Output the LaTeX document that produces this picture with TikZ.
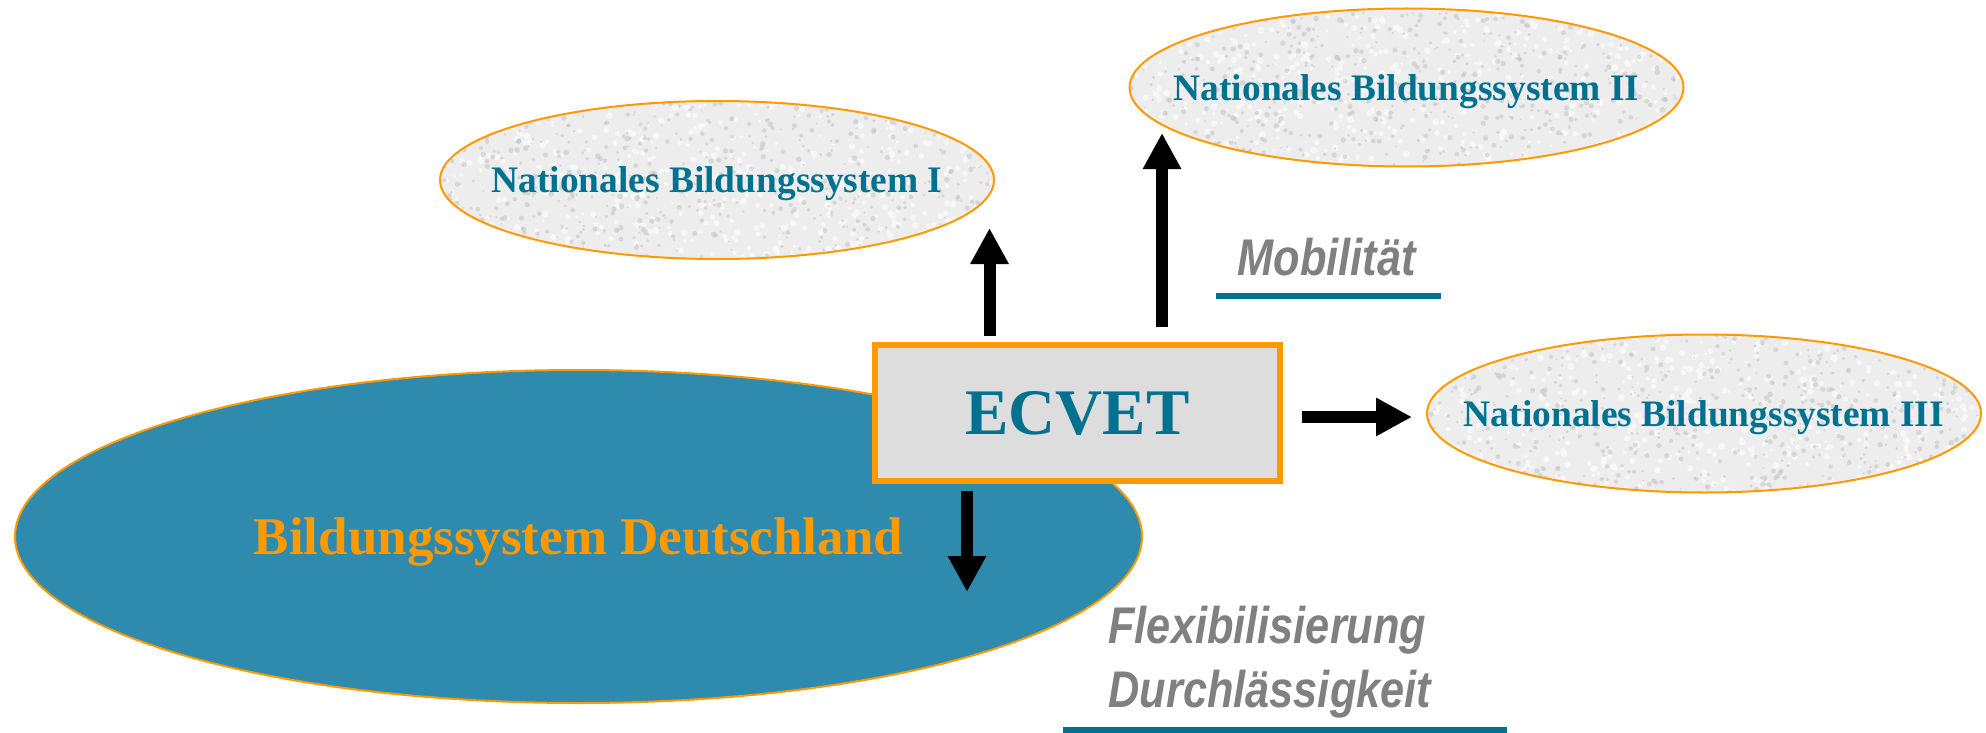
\documentclass[tikz,border=0pt]{standalone}
\usepackage{fontspec}
\setmainfont{Liberation Serif}
\newfontfamily\arialbi[FakeStretch=0.84]{Liberation Sans}
\usetikzlibrary{arrows.meta,shapes.geometric}
\definecolor{ecteal}{HTML}{00728F}
\definecolor{ecblue}{HTML}{2E8BAE}
\definecolor{ecorange}{HTML}{FF9900}
\definecolor{ecbox}{HTML}{DDDDDD}
\definecolor{ecgrey}{HTML}{808080}
\definecolor{ecstone}{HTML}{EDEDED}
\definecolor{ecspeck}{HTML}{C4C4C4}
\definecolor{ecspeckb}{HTML}{FAFAFA}
\pgfmathsetseed{7}
\tikzset{
  natell/.style={ellipse, draw=ecorange, line width=1pt, fill=ecstone,
    minimum width=277pt, minimum height=79pt, inner sep=0pt,
    path picture={\begin{scope}[shift={(path picture bounding box.center)}]
      \foreach \k in {1,...,500}{\fill[ecspeckb, opacity=0.8] (rand*280,rand*80) circle[radius=1.5+2*rnd];}
      \foreach \k in {1,...,600}{\fill[ecspeck, opacity=0.55] (rand*280,rand*80) circle[radius=1+1.8*rnd];}
      \end{scope}}},
  nattext/.style={text=ecteal, inner sep=0pt,
    font=\fontsize{18.7pt}{22pt}\selectfont\bfseries, text depth=0pt},
  bigell/.style={ellipse, draw=ecorange, line width=1pt, fill=ecblue,
    minimum width=563.5pt, minimum height=166.5pt, inner sep=0pt},
  bigtext/.style={text=ecorange, inner sep=0pt,
    font=\fontsize{26.5pt}{30pt}\selectfont\bfseries, text depth=0pt},
  ecbox/.style={rectangle, draw=ecorange, line width=2.75pt, fill=ecbox,
    minimum width=202.5pt, minimum height=68pt, inner sep=0pt,
    text=ecteal, font=\fontsize{32.5pt}{36pt}\selectfont\bfseries, text depth=0pt},
  fat/.style={line width=6pt, -{Triangle[width=18pt,length=18pt]}},
  slogan/.style={text=ecgrey, inner sep=0pt, align=left,
    font=\arialbi\fontsize{25.8pt}{32pt}\selectfont\bfseries\itshape},
  uline/.style={draw=ecteal, line width=3pt}
}
\begin{document}
\begin{tikzpicture}[x=0.5pt,y=-0.5pt]
\useasboundingbox (0,0) rectangle (1986,733);
% big ellipse
\node[bigell] (de) at (578.5,536.5) {};
\node[bigtext] (detext) at (de.center) {Bildungssystem Deutschland};
% national systems
\node[natell] (n1) at (717,180) {};
\node[nattext] (n1text) at (n1.center) {Nationales Bildungssystem I};
\node[natell] (n2) at (1406.5,87.5) {};
\node[nattext] (n2text) at (n2.center) {Nationales Bildungssystem II};
\node[natell] (n3) at (1704,413.5) {};
\node[nattext] (n3text) at (n3.center) {Nationales Bildungssystem III};
% ECVET box
\node[ecbox] (ecvet) at (1077.5,413) {ECVET};
% arrow end points
\coordinate (t1) at (989.5,228);
\coordinate (t2) at (1162,133);
\coordinate (t3) at (1412,417);
\coordinate (t4) at (967,592);
\draw[fat, shorten <=3pt] (ecvet.north -| t1) -- (t1);
\draw[fat, shorten <=7.5pt] (ecvet.north -| t2) -- (t2);
\draw[fat, shorten <=9.5pt] (ecvet.east |- t3) -- (t3);
\draw[fat, shorten <=3.5pt] (ecvet.south -| t4) -- (t4);
% slogans
\node[slogan, anchor=base west] (mob) at (1237,275) {Mobilität};
\node[slogan, anchor=base west] (flex) at (1108,707) {Flexibilisierung\\Durchlässigkeit};
\coordinate (u1a) at (1216,296);
\coordinate (u1b) at (1441,296);
\coordinate (u2a) at (1063,730);
\coordinate (u2b) at (1507,730);
\draw[uline] (u1a) -- (u1b);
\draw[uline] (u2a) -- (u2b);
\end{tikzpicture}
\end{document}
